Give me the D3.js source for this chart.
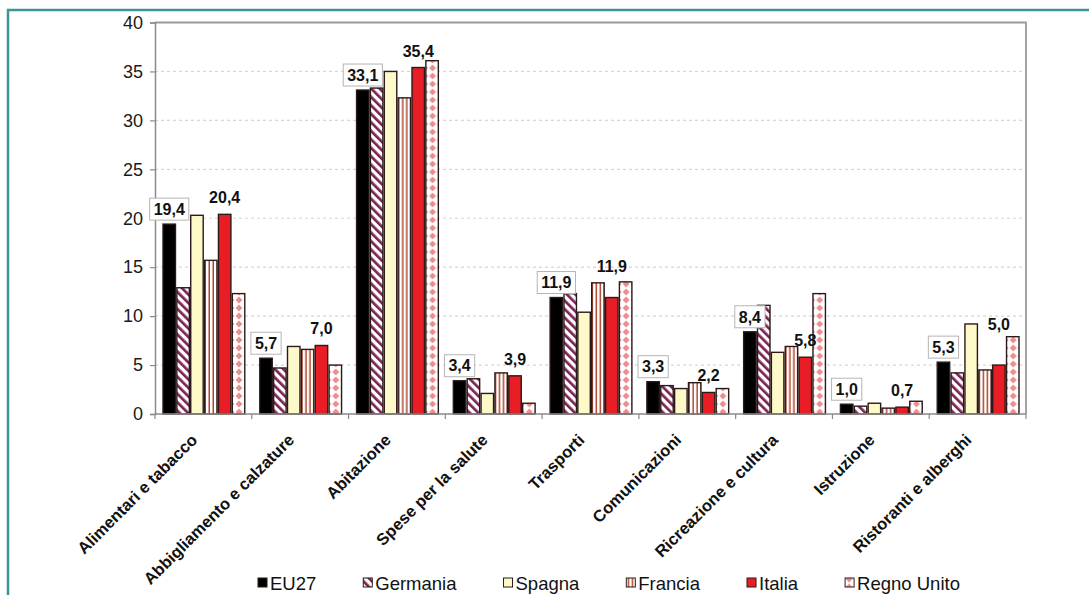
<!DOCTYPE html>
<html>
<head>
<meta charset="utf-8">
<script src="https://cdn.jsdelivr.net/npm/d3@7"></script>
<style>
  html, body { margin: 0; padding: 0; background: #fff; }
  svg { display: block; font-family: "Liberation Sans", Arial, sans-serif; }
</style>
</head>
<body>
<svg id="chart" width="1089" height="595"></svg>
<script>
// Quota di spesa delle famiglie per capitolo (%)
const categories = [
  "Alimentari e tabacco", "Abbigliamento e calzature", "Abitazione",
  "Spese per la salute", "Trasporti", "Comunicazioni",
  "Ricreazione e cultura", "Istruzione", "Ristoranti e alberghi"
];
const seriesNames = ["EU27", "Germania", "Spagna", "Francia", "Italia", "Regno Unito"];

const eu27     = [19.4, 5.7, 33.1, 3.4, 11.9, 3.3, 8.4, 1.0, 5.3];
const germania = [12.9, 4.7, 33.3, 3.6, 12.3, 2.9, 11.1, 0.8, 4.2];
const spagna   = [20.3, 6.9, 35.0, 2.1, 10.4, 2.6, 6.3, 1.1, 9.2];
const francia  = [15.7, 6.6, 32.3, 4.2, 13.4, 3.2, 6.9, 0.6, 4.5];
const italia   = [20.4, 7.0, 35.4, 3.9, 11.9, 2.2, 5.8, 0.7, 5.0];
const regno    = [12.3, 5.0, 36.1, 1.1, 13.5, 2.6, 12.3, 1.3, 7.9];

const yTicks = [0, 5, 10, 15, 20, 25, 30, 35, 40];

const seriesValues = [eu27, germania, spagna, francia, italia, regno];

// ---- layout ----
const svg = d3.select("#chart");
const plot = { left: 155, right: 1026, top: 22.5, bottom: 414 };

const x0 = d3.scaleBand().domain(categories).range([plot.left, plot.right]).padding(0);
const x1 = d3.scaleBand().domain(seriesNames)
  .range([8, x0.bandwidth() - 7]).paddingInner(0.1).paddingOuter(0);
const y = d3.scaleLinear().domain([0, 40]).range([plot.bottom, plot.top]);

const fmt = v => v.toFixed(1).replace(".", ",");

// ---- patterns ----
const defs = svg.append("defs");

const pGer = defs.append("pattern").attr("id", "p-germania")
  .attr("patternUnits", "userSpaceOnUse").attr("width", 6).attr("height", 6)
  .attr("patternTransform", "rotate(-45)");
pGer.append("rect").attr("width", 6).attr("height", 6).attr("fill", "#fff");
pGer.append("rect").attr("x", 0).attr("width", 2.7).attr("height", 6).attr("fill", "#7b2454");

const pFra = defs.append("pattern").attr("id", "p-francia")
  .attr("patternUnits", "userSpaceOnUse").attr("width", 4).attr("height", 4);
pFra.append("rect").attr("width", 4).attr("height", 4).attr("fill", "#fff");
pFra.append("rect").attr("x", 1.5).attr("width", 1.5).attr("height", 4).attr("fill", "#b0452e");

const pUk = defs.append("pattern").attr("id", "p-regno")
  .attr("patternUnits", "userSpaceOnUse").attr("width", 8).attr("height", 8);
pUk.append("rect").attr("width", 8).attr("height", 8).attr("fill", "#fff");
pUk.append("polygon").attr("points", "4,0.6 7.4,4 4,7.4 0.6,4").attr("fill", "#ee8b8d");

const fills = {
  "EU27": "#000000",
  "Germania": "url(#p-germania)",
  "Spagna": "#fdf9c8",
  "Francia": "url(#p-francia)",
  "Italia": "#e81d25",
  "Regno Unito": "url(#p-regno)"
};

// ---- outer frame ----
svg.append("rect")
  .attr("x", 8).attr("y", 10).attr("width", 1200).attr("height", 700)
  .attr("fill", "none").attr("stroke", "#3a9696").attr("stroke-width", 2.5);

// ---- grid ----
svg.append("g").selectAll("line")
  .data(yTicks.filter(t => t > 0 && t < 40))
  .join("line")
  .attr("x1", plot.left).attr("x2", plot.right)
  .attr("y1", d => y(d)).attr("y2", d => y(d))
  .attr("stroke", "#d6d6d6").attr("stroke-width", 1.2).attr("stroke-dasharray", "3,3");

// plot frame (top, right)
svg.append("path")
  .attr("d", `M${plot.left},${plot.top}H${plot.right}V${plot.bottom}`)
  .attr("fill", "none").attr("stroke", "#9a9a9a").attr("stroke-width", 1.8);

// ---- bars ----
const rows = categories.map((c, i) => ({
  category: c,
  values: seriesNames.map((s, k) => ({ series: s, value: seriesValues[k][i] }))
}));

const groups = svg.append("g").selectAll("g")
  .data(rows).join("g")
  .attr("transform", d => `translate(${x0(d.category)},0)`);

groups.selectAll("rect")
  .data(d => d.values).join("rect")
  .attr("x", d => x1(d.series))
  .attr("width", x1.bandwidth())
  .attr("y", d => y(d.value))
  .attr("height", d => y(0) - y(d.value))
  .attr("fill", d => fills[d.series])
  .attr("stroke", "#2a1a1a").attr("stroke-width", 1.4);

// ---- axes ----
const yAxis = d3.axisLeft(y).tickValues(yTicks).tickSize(5).tickPadding(7);
const gy = svg.append("g").attr("transform", `translate(${plot.left},0)`).call(yAxis);
gy.select(".domain").attr("stroke", "#8a8a8a").attr("stroke-width", 1.5);
gy.selectAll(".tick line").attr("stroke", "#8a8a8a").attr("stroke-width", 1.2);
gy.selectAll(".tick text").attr("font-size", 18).attr("fill", "#1a1a1a")
  .attr("font-family", "'Liberation Sans', Arial, sans-serif");

// category axis: baseline plus boundary ticks
const bounds = categories.map(c => x0(c)).concat([plot.right]);
svg.append("line")
  .attr("x1", plot.left).attr("x2", plot.right)
  .attr("y1", y(0)).attr("y2", y(0))
  .attr("stroke", "#8a8a8a").attr("stroke-width", 1.5);
svg.append("g").selectAll("line").data(bounds).join("line")
  .attr("x1", d => d).attr("x2", d => d)
  .attr("y1", y(0)).attr("y2", y(0) + 5)
  .attr("stroke", "#8a8a8a").attr("stroke-width", 1.2);

svg.append("g").selectAll("text").data(categories).join("text")
  .attr("transform", d => `translate(${x0(d) + x0.bandwidth() / 2 - 5},${y(0) + 27}) rotate(-45)`)
  .attr("text-anchor", "end")
  .attr("font-size", 16.5).attr("font-weight", "bold").attr("fill", "#111")
  .text(d => d);

// ---- value labels ----
const labelLayer = svg.append("g").attr("font-size", 16).attr("font-weight", "bold").attr("fill", "#111");

// EU27: boxed label just above the bar
categories.forEach((c, i) => {
  const cx = x0(c) + x1("EU27") + x1.bandwidth() / 2;
  const top = y(eu27[i]);
  const g = labelLayer.append("g");
  const t = g.append("text")
    .attr("x", cx).attr("y", top - 4 - 11).attr("dy", "0.36em")
    .attr("text-anchor", "middle").text(fmt(eu27[i]));
  const w = t.node().getComputedTextLength();
  g.insert("rect", "text")
    .attr("x", cx - w / 2 - 4).attr("y", top - 4 - 22)
    .attr("width", w + 8).attr("height", 22)
    .attr("fill", "#fff").attr("stroke", "#b5b5b5").attr("stroke-width", 1);
});

// Italia: plain label above the bar (lifted where it would crowd a taller neighbour)
const italiaLift = { "Trasporti": 15, "Ristoranti e alberghi": 24 };
categories.forEach((c, i) => {
  const cx = x0(c) + x1("Italia") + x1.bandwidth() / 2;
  const base = y(italia[i]) - 11 - (italiaLift[c] || 0);
  labelLayer.append("text")
    .attr("x", cx).attr("y", base)
    .attr("text-anchor", "middle").text(fmt(italia[i]));
});

// ---- legend ----
const legend = svg.append("g").attr("transform", "translate(258,583)");
let lx = 0;
seriesNames.forEach(s => {
  const item = legend.append("g").attr("transform", `translate(${lx},0)`);
  item.append("rect").attr("x", 0).attr("y", -5).attr("width", 9).attr("height", 9)
    .attr("fill", fills[s]).attr("stroke", "#2a1a1a").attr("stroke-width", 1);
  const t = item.append("text").attr("x", 12).attr("y", 0).attr("dy", "0.36em")
    .attr("font-size", 18.5).attr("fill", "#111").text(s);
  lx += 12 + t.node().getComputedTextLength() + 47;
});
</script>
</body>
</html>
